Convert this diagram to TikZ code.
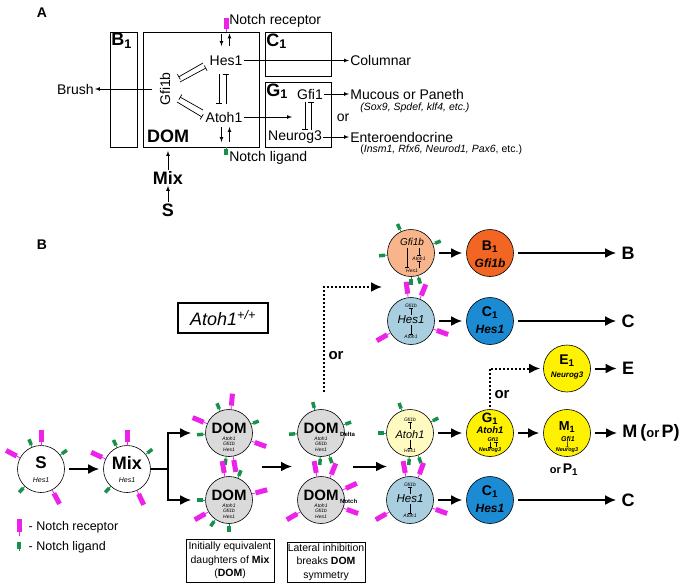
\documentclass[tikz,border=0pt]{standalone}
\usepackage{fontspec}
\setmainfont{Liberation Sans}
\usetikzlibrary{calc,arrows.meta}
\newcommand\fsz[1]{\fontsize{#1}{#1}\selectfont}
\definecolor{rcptmag}{HTML}{EC22E8}
\definecolor{lgndgrn}{HTML}{17904A}
\definecolor{domgray}{HTML}{DADADA}
\definecolor{peach}{HTML}{F8B58C}
\definecolor{orangeB}{HTML}{F26522}
\definecolor{paleblue}{HTML}{A8CEE0}
\definecolor{blueC}{HTML}{1B8BD3}
\definecolor{yellowG}{HTML}{FFF200}
\definecolor{paleyellow}{HTML}{FFFAC0}
% receptors and ligands round a cell: #1 cell, #2 list of angles
\newcommand\rcpts[2]{\foreach \rang in {#2} {%
  \draw[rstem] ($(#1)+({23.5*cos(\rang)},{-23.5*sin(\rang)})$) -- ($(#1)+({27.5*cos(\rang)},{-27.5*sin(\rang)})$);
  \draw[rbar] ($(#1)+({27.5*cos(\rang)},{-27.5*sin(\rang)})$) -- ($(#1)+({39.5*cos(\rang)},{-39.5*sin(\rang)})$);}}
\newcommand\ligs[2]{\foreach \rang in {#2} {%
  \draw[lstem] ($(#1)+({23.5*cos(\rang)},{-23.5*sin(\rang)})$) -- ($(#1)+({26*cos(\rang)},{-26*sin(\rang)})$);
  \draw[lbar] ($(#1)+({26*cos(\rang)},{-26*sin(\rang)})$) -- ($(#1)+({32*cos(\rang)},{-32*sin(\rang)})$);}}

\begin{document}
\begin{tikzpicture}[x=1pt,y=-1pt,>=latex,line width=0.7pt,
    panelbox/.style={draw,line width=0.8pt,inner sep=0pt},
    txt/.style={font=\fsz{14},inner sep=1pt},
    cell/.style={circle,draw,line width=0.6pt,minimum size=47pt,inner sep=0pt},
    tny/.style={font=\fsz{5}\itshape,inner sep=0pt},
    tnyl/.style={inner sep=0pt,align=center,font=\fontsize{5}{5.5}\selectfont\itshape},
    inh/.style={-{Bar[width=6pt]},line width=0.7pt},
    inhs/.style={-{Bar[width=3.5pt]},line width=0.5pt},
    bigarr/.style={line width=2pt,-{Latex[length=11pt,width=10pt]},shorten <=4pt,shorten >=4pt},
    dotarr/.style={line width=2pt,dotted,-{Latex[length=11pt,width=10pt]},shorten >=3pt},
    endlab/.style={font=\fsz{18}\bfseries,inner sep=1pt},
    rstem/.style={rcptmag,line width=0.8pt},
    rbar/.style={rcptmag,line width=5pt},
    lstem/.style={lgndgrn,line width=0.8pt},
    lbar/.style={lgndgrn,line width=3.5pt}]
\useasboundingbox (0,0) rectangle (685,587);
% panel A
\node[font=\fsz{14}\bfseries] (labA) at (42,13) {A};
\node[panelbox,minimum width=27pt,minimum height=115pt] (boxB) at (123.5,89.5) {};
\node[panelbox,minimum width=116pt,minimum height=115pt] (boxD) at (201,89.5) {};
\node[panelbox,minimum width=66pt,minimum height=44pt] (boxC) at (298,54) {};
\node[panelbox,minimum width=66pt,minimum height=65pt] (boxG) at (298,114.5) {};
\node[anchor=north west,font=\fsz{18}\bfseries,inner sep=1.5pt] (labB1) at (boxB.north west) {B\textsubscript{1}};
\node[anchor=north west,font=\fsz{18}\bfseries,inner sep=1.5pt] (labC1) at (boxC.north west) {C\textsubscript{1}};
\node[anchor=north west,font=\fsz{18}\bfseries,inner sep=1.5pt] (labG1) at (boxG.north west) {G\textsubscript{1}};
\node[font=\fsz{18}\bfseries] (labD) at (168,136) {DOM};
\node[txt] (hesA) at (226,60.5) {Hes1};
\node[txt] (atohA) at (224,117) {Atoh1};
\node[txt,rotate=90] (gfibA) at (165,89) {Gfi1b};
\node[txt] (gfiA) at (310,94) {Gfi1};
\node[txt] (ngnA) at (295,137) {Neurog3};
\node[txt,anchor=east] (brush) at (95,89) {Brush};
\node[txt,anchor=west] (colm) at (349,60.5) {Columnar};
\node[txt,anchor=west] (mucp) at (349,94) {Mucous or Paneth};
\node[font=\fsz{10.5}\itshape,anchor=west,inner sep=1pt] (soxA) at (359,108) {(Sox9, Spdef, klf4, etc.)};
\node[txt] (orA) at (343,118) {or};
\node[txt,anchor=west] (entA) at (349,137) {Enteroendocrine};
\node[font=\fsz{10.5},anchor=west,inner sep=1pt] (insA) at (359,150) {(\textit{Insm1, Rfx6, Neurod1, Pax6}, etc.)};
\node[txt,anchor=west] (recT) at (228,21) {Notch receptor};
\node[txt,anchor=west] (ligT) at (228,158) {Notch ligand};
\node[font=\fsz{18}\bfseries,inner sep=1pt] (mixA) at (168,178) {Mix};
\node[font=\fsz{18}\bfseries,inner sep=1pt] (sA) at (168,210) {S};
\coordinate (recA) at (226,32);
\coordinate (ligA) at (226,147);
\draw[rstem] (recA) -- ($(recA)+(0,-3)$);
\draw[rbar] ($(recA)+(0,-3)$) -- ($(recA)+(0,-14)$);
\draw[lstem] (ligA) -- ($(ligA)+(0,1.5)$);
\draw[lbar] ($(ligA)+(0,1.5)$) -- ($(ligA)+(0,8)$);
\draw[->] ($(recA)+(-4.5,1.5)$) -- ($(recA)+(-4.5,14)$);
\draw[->] ($(recA)+(3.5,14)$) -- ($(recA)+(3.5,1.5)$);
\draw[->] ($(ligA)+(-4.5,-20)$) -- ($(ligA)+(-4.5,-5)$);
\draw[->] ($(ligA)+(3.5,-5)$) -- ($(ligA)+(3.5,-20)$);
\coordinate (atohIn) at (292,117);
\coordinate (domIn) at (168,151);
\draw[->] (hesA) -- (colm);
\draw[->] (atohA) -- (atohIn);
\draw[->] (gfiA) -- (mucp);
\draw[->] (ngnA) -- (entA);
\draw[->] ($(gfibA.north)+(-7,0)$) -- (brush);
\draw[->] (mixA) -- (domIn);
\draw[->] (sA) -- (mixA);
\draw[inh] ($(hesA)+(-23,2.5)$) -- ($(gfibA)+(13.5,-12)$);
\draw[inh] ($(gfibA)+(15,-7)$) -- ($(hesA)+(-20,7.5)$);
\draw[inh] ($(atohA)+(-21,-7)$) -- ($(gfibA)+(15,8)$);
\draw[inh] ($(gfibA)+(12,13)$) -- ($(atohA)+(-22,0)$);
\draw[inh] ($(hesA)+(-7,13.5)$) -- ($(atohA)+(-5,-13)$);
\draw[inh] ($(atohA)+(2,-13)$) -- ($(hesA)+(0,13.5)$);
\draw[inh] ($(gfiA)+(-5,8)$) -- ($(ngnA)+(10,-7)$);
\draw[inh] ($(ngnA)+(16,-7)$) -- ($(gfiA)+(1,8)$);
% panel B
\node[font=\fsz{14}\bfseries] (labBB) at (42,245) {B};
\node[panelbox,line width=1.3pt,minimum width=90pt,minimum height=30pt,font=\fsz{18}\itshape] (wtbox) at (223,318) {Atoh1\textsuperscript{+/+}};
\node[cell] (S) at (41,469) {};
\node[cell] (Mix) at (127,469) {};
\node[cell,fill=domgray] (domA) at (229,433) {};
\node[cell,fill=domgray] (domB) at (229,500) {};
\node[cell,fill=domgray] (domD) at (321,433) {};
\node[cell,fill=domgray] (domN) at (321,500) {};
\node[cell,fill=peach] (pGfi) at (411,253) {};
\node[cell,fill=paleblue] (bHesT) at (411,321) {};
\node[cell,fill=paleyellow] (yAt) at (410,433) {};
\node[cell,fill=paleblue] (bHesB) at (410,500) {};
\node[cell,fill=orangeB] (B1) at (490,253) {};
\node[cell,fill=blueC] (C1T) at (490,321) {};
\node[cell,fill=yellowG] (E1) at (567,368.5) {};
\node[cell,fill=yellowG] (G1) at (490,433) {};
\node[cell,fill=yellowG] (M1) at (567,433) {};
\node[cell,fill=blueC] (C1B) at (490,500) {};
% texts in the cells
\node[font=\fsz{17}\bfseries,inner sep=0pt] (St) at (41,463) {S};
\node[font=\fsz{7}\itshape,inner sep=0pt] (Sh) at (41,480) {Hes1};
\node[font=\fsz{18}\bfseries,inner sep=0pt] (Mixt) at (127,463) {Mix};
\node[font=\fsz{7}\itshape,inner sep=0pt] (Mixh) at (127,480) {Hes1};
\node[font=\fsz{15}\bfseries,inner sep=0pt] (domAt) at (229,428) {DOM};
\node[tnyl] (domAg) at (229,444) {Atoh1\\Gfi1b\\Hes1};
\node[font=\fsz{15}\bfseries,inner sep=0pt] (domBt) at (229,495) {DOM};
\node[tnyl] (domBg) at (229,511) {Atoh1\\Gfi1b\\Hes1};
\node[font=\fsz{15}\bfseries,inner sep=0pt] (domDt) at (321,428) {DOM};
\node[tnyl] (domDg) at (321,444) {Atoh1\\Gfi1b\\Hes1};
\node[font=\fsz{15}\bfseries,inner sep=0pt] (domNt) at (321,495) {DOM};
\node[tnyl] (domNg) at (321,511) {Atoh1\\Gfi1b\\Hes1};
\node[font=\fsz{6}\bfseries,inner sep=0pt,anchor=base west] (domDs) at ($(domDt.base east)+(1,3.5)$) {Delta};
\node[font=\fsz{6}\bfseries,inner sep=0pt,anchor=base west] (domNs) at ($(domNt.base east)+(1,3.5)$) {Notch};
\node[font=\fsz{10}\itshape,inner sep=0pt] (pGg) at (412,242) {Gfi1b};
\node[tny] (pGa) at (419,258.5) {Atoh1};
\node[tny] (pGh) at (412,271) {Hes1};
\draw[inhs] ($(pGg.south)+(-5,1.5)$) -- ($(pGh.north)+(-5,-1.5)$);
\draw[inhs] ($(pGa.north |- pGg.south)+(0,2)$) -- ($(pGa.north)+(0,-0.5)$);
\draw[inhs] ($(pGa.south |- pGh.north)+(0,-1)$) -- ($(pGa.south)+(0,0.5)$);
\node[tny] (bTg) at (411,305.5) {Gfi1b};
\node[font=\fsz{11.5}\itshape,inner sep=0pt] (bTh) at (411,320) {Hes1};
\node[tny] (bTa) at (411,337) {Atoh1};
\draw[inhs,shorten <=1pt] (bTh) -- (bTg);
\draw[inhs,shorten <=1pt] (bTh) -- (bTa);
\node[tny] (yAg) at (410,419.5) {Gfi1b};
\node[font=\fsz{11}\itshape,inner sep=0pt] (yAa) at (410,434.5) {Atoh1};
\node[tny] (yAh) at (410,450.5) {Hes1};
\draw[inhs,shorten <=1pt] (yAa) -- (yAg);
\draw[inhs,shorten <=1pt] (yAa) -- (yAh);
\node[tny] (bBg) at (410,484.5) {Gfi1b};
\node[font=\fsz{11.5}\itshape,inner sep=0pt] (bBh) at (410,499) {Hes1};
\node[tny] (bBa) at (410,516) {Atoh1};
\draw[inhs,shorten <=1pt] (bBh) -- (bBg);
\draw[inhs,shorten <=1pt] (bBh) -- (bBa);
\node[font=\fsz{14}\bfseries,inner sep=0pt] (B1t) at (490,246.5) {B\textsubscript{1}};
\node[font=\fsz{12}\bfseries\itshape,inner sep=0pt] (B1g) at (490,263) {Gfi1b};
\node[font=\fsz{14}\bfseries,inner sep=0pt] (C1Tt) at (490,312.5) {C\textsubscript{1}};
\node[font=\fsz{12}\bfseries\itshape,inner sep=0pt] (C1Th) at (490,329) {Hes1};
\node[font=\fsz{14}\bfseries,inner sep=0pt] (C1Bt) at (490,491.5) {C\textsubscript{1}};
\node[font=\fsz{12}\bfseries\itshape,inner sep=0pt] (C1Bh) at (490,508) {Hes1};
\node[font=\fsz{14}\bfseries,inner sep=0pt] (E1t) at (567,361) {E\textsubscript{1}};
\node[font=\fsz{8}\bfseries\itshape,inner sep=0pt] (E1n) at (567,376) {Neurog3};
\node[font=\fsz{13.5}\bfseries,inner sep=0pt] (G1t) at (490,418.5) {G\textsubscript{1}};
\node[font=\fsz{9.5}\bfseries\itshape,inner sep=0pt] (G1a) at (490,430) {Atoh1};
\node[font=\fsz{5.5}\bfseries\itshape,inner sep=0pt] (G1g) at (493,439.5) {Gfi1};
\node[font=\fsz{5.5}\bfseries\itshape,inner sep=0pt] (G1n) at (490,450) {Neurog3};
\draw[inhs] ($(G1g.south)+(-3,0.5)$) -- ($(G1g.south |- G1n.north)+(-3,0)$);
\draw[inhs] ($(G1g.south |- G1n.north)+(3,0)$) -- ($(G1g.south)+(3,0.5)$);
\node[font=\fsz{13}\bfseries,inner sep=0pt] (M1t) at (567,427) {M\textsubscript{1}};
\node[font=\fsz{7}\bfseries\itshape,inner sep=0pt] (M1g) at (568,438.5) {Gfi1};
\node[font=\fsz{5.5}\bfseries\itshape,inner sep=0pt] (M1n) at (567,450) {Neurog3};
\draw[inhs] (M1g) -- (M1n);
% receptors and ligands
\rcpts{S}{90,152,-62}
\ligs{S}{112,36,227}
\rcpts{Mix}{90,155,-65}
\ligs{Mix}{115,38,227}
\rcpts{domA}{85,157,-20,-80}
\ligs{domA}{112,22,183,-97}
\rcpts{domB}{100,15,-150}
\ligs{domB}{68,180,-125,-90}
\ligs{domD}{105,20,182,-92,-70}
\rcpts{domN}{100,68,25,-20,-150}
\ligs{yAt}{110,28,180,-92,-70}
\rcpts{bHesB}{100,70,-150,-20}
\ligs{pGfi}{115,22,-175,-90,-73}
\rcpts{bHesT}{97,68,-150,-20}
% connectors
\coordinate (fork) at (168,469);
\coordinate (pairA) at ($(domA)!0.5!(domB)$);
\coordinate (pairD) at ($(domD)!0.5!(domN)$);
\coordinate (pairY) at ($(yAt)!0.5!(bHesB)$);
\coordinate (pairT) at ($(pGfi)!0.5!(bHesT)$);
\draw[bigarr] (S) -- (Mix);
\draw[line width=2pt] (Mix) -- (fork);
\draw[bigarr,shorten <=0pt,shorten >=0pt] (fork) |- ($(domA.west)+(-14,0)$);
\draw[bigarr,shorten <=0pt,shorten >=0pt] (fork) |- ($(domB.west)+(-14,0)$);
\draw[bigarr,shorten <=0pt,shorten >=0pt] ($(pairA)+(33,0)$) -- ($(pairD)+(-29,0)$);
\draw[bigarr,shorten <=0pt,shorten >=0pt] ($(pairD)+(32,0)$) -- ($(pairY)+(-23,0)$);
\draw[dotarr] ($(domD.north)+(3,-17)$) |- ($(pairT)+(-26,0)$);
\draw[dotarr] ($(G1.north)+(0,-2)$) |- (E1);
\node[font=\fsz{15}\bfseries] (orD) at (336,356) {or};
\node[font=\fsz{15}\bfseries] (orG) at (502,395) {or};
\node[endlab] (Bend) at (628,253) {B};
\node[endlab] (CendT) at (628,321) {C};
\node[endlab] (Eend) at (628,368.5) {E};
\node[endlab,anchor=west] (Mend) at (621,433) {M\,(\fsz{13}or\,\fsz{18}P)};
\node[endlab] (CendB) at (628,500) {C};
\node[font=\fsz{14}\bfseries,inner sep=0pt] (orP) at (564,470) {\fsz{11}or\,\fsz{14}P\textsubscript{1}};
\draw[bigarr] (pGfi) -- (B1);
\draw[bigarr] (B1) -- (Bend);
\draw[bigarr] (bHesT) -- (C1T);
\draw[bigarr] (C1T) -- (CendT);
\draw[bigarr] (E1) -- (Eend);
\draw[bigarr] (yAt) -- (G1);
\draw[bigarr] (G1) -- (M1);
\draw[bigarr] (M1) -- (Mend);
\draw[bigarr] (bHesB) -- (C1B);
\draw[bigarr] (C1B) -- (CendB);
% legend and notes
\coordinate (legR) at (19,536);
\coordinate (legL) at (19,551);
\draw[rstem] (legR) -- ($(legR)+(0,-4)$);
\draw[rbar] ($(legR)+(0,-4)$) -- ($(legR)+(0,-17)$);
\draw[lstem] (legL) -- ($(legL)+(0,-2)$);
\draw[lbar] ($(legL)+(0,-2)$) -- ($(legL)+(0,-9)$);
\node[font=\fsz{12.5},anchor=west] (legRt) at (25,527) {- Notch receptor};
\node[font=\fsz{12.5},anchor=west] (legLt) at (25,547) {- Notch ligand};
\node[panelbox,minimum width=88pt,minimum height=43pt,align=center,font=\fontsize{10.5}{13.5}\selectfont] (eqbox) at (230,560.5) {Initially equivalent\\daughters of \textbf{Mix}\\(\textbf{DOM})};
\node[panelbox,minimum width=78pt,minimum height=40pt,align=center,font=\fontsize{10.5}{13.5}\selectfont] (libox) at (326,562) {Lateral inhibition\\breaks \textbf{DOM}\\symmetry};
\end{tikzpicture}
\end{document}
